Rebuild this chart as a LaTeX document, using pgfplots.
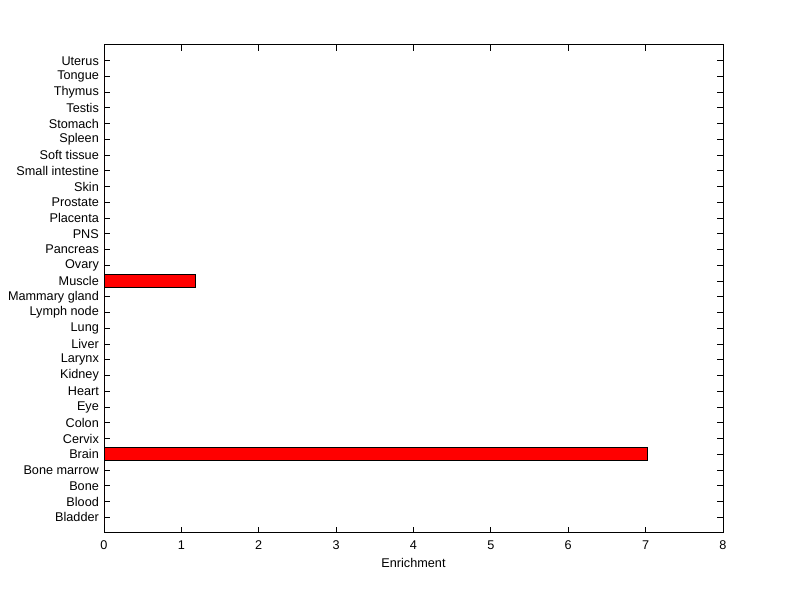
\documentclass[border=0pt]{standalone}
\usepackage{pgfplots}
\pgfplotsset{compat=1.18}
\usepackage{fontspec}
\setmainfont{Liberation Sans}
\begin{document}
\fontsize{9.5}{11}\selectfont
\begin{tikzpicture}
\path[use as bounding box] (0,0) rectangle (600pt,449.25pt);
\begin{axis}[
  at={(78pt,49.5pt)}, anchor=south west,
  scale only axis, width=464.25pt, height=366pt,
  xbar, bar width=0.8,
  xmin=0, xmax=8, ymin=0, ymax=31,
  xtick={0,1,2,3,4,5,6,7,8},
  ytick={1,...,30},
  yticklabels={Bladder,Blood,Bone,Bone marrow,Brain,Cervix,Colon,Eye,Heart,Kidney,Larynx,Liver,Lung,Lymph node,Mammary gland,Muscle,Ovary,Pancreas,PNS,Placenta,Prostate,Skin,Small intestine,Soft tissue,Spleen,Stomach,Testis,Thymus,Tongue,Uterus},
  tick align=inside, tick pos=both,
  major tick length=4.5pt,
  tick style={black, line width=0.75pt},
  axis line style={line width=0.75pt},
  xlabel={Enrichment},
  xlabel style={yshift=0pt},
  /pgf/number format/assume math mode=true,
  ticklabel style={font=\fontsize{9.5}{11}\selectfont},
  label style={font=\fontsize{9.5}{11}\selectfont},
  xticklabel style={yshift=-2.5pt},
  yticklabel style={xshift=-0.5pt},
]
\addplot[fill=red, draw=black, line width=0.75pt] coordinates {
(0,1) (0,2) (0,3) (0,4) (7.02,5) (0,6) (0,7) (0,8) (0,9) (0,10)
(0,11) (0,12) (0,13) (0,14) (0,15) (1.18,16) (0,17) (0,18) (0,19) (0,20)
(0,21) (0,22) (0,23) (0,24) (0,25) (0,26) (0,27) (0,28) (0,29) (0,30)
};
\end{axis}
\end{tikzpicture}
\end{document}
